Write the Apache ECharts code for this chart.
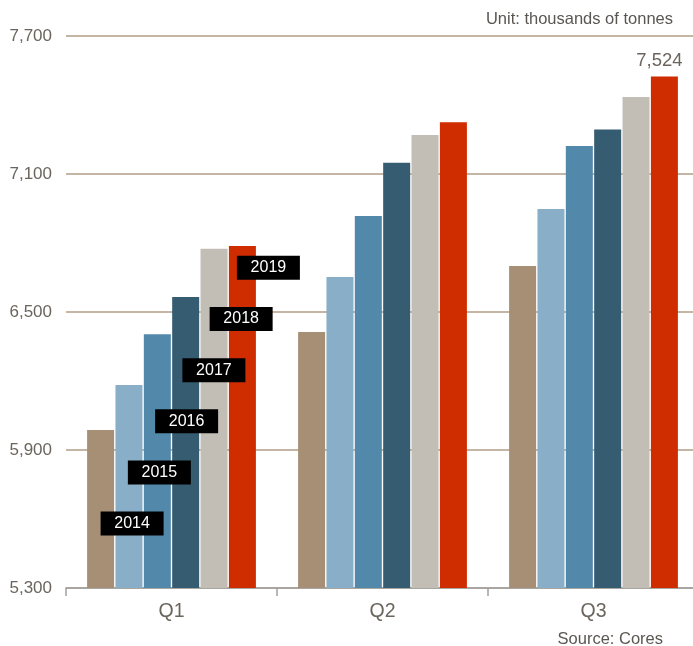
<!DOCTYPE html>
<html>
<head>
<meta charset="utf-8">
<script src="https://cdn.jsdelivr.net/npm/echarts@6/dist/echarts.min.js"></script>
<style>html,body{margin:0;padding:0;background:#fff;overflow:hidden}#c{width:700px;height:646px}</style>
</head>
<body>
<div id="c"></div>
<script>
var categories = ['Q1', 'Q2', 'Q3'];
var years = ['2014', '2015', '2016', '2017', '2018', '2019'];
var v2014 = [5987, 6413, 6700];
var v2015 = [6183, 6652, 6948];
var v2016 = [6403, 6917, 7222];
var v2017 = [6565, 7149, 7294];
var v2018 = [6775, 7270, 7435];
var v2019 = [6787, 7325, 7524];
var yTicks = [5300, 5900, 6500, 7100, 7700];

var seriesValues = [v2014, v2015, v2016, v2017, v2018, v2019];
var colors = ['#a68f75', '#88afc7', '#5289aa', '#365c71', '#c2beb6', '#cf2d00'];
var font = '"Liberation Sans", Arial, sans-serif';

var chart = echarts.init(document.getElementById('c'));
var series = years.map(function (y, i) {
  var data = seriesValues[i].map(function (v, j) {
    var item = { value: v };
    if (i === years.length - 1 && j === categories.length - 1) {
      item.label = {
        show: true, position: 'top', distance: 6, offset: [-5, 0],
        color: '#6b655e', fontSize: 18.5, fontFamily: font,
        formatter: function (p) { return echarts.format.addCommas(p.value); }
      };
    }
    return item;
  });
  return {
    name: y,
    type: 'bar',
    data: data,
    barCategoryGap: '20%',
    barGap: '5%',
    itemStyle: { color: colors[i] },
    emphasis: { disabled: true },
    markPoint: {
      symbol: 'rect',
      symbolSize: [63, 24],
      symbolOffset: [31.5 - 1.1 * i, 0],
      silent: true,
      itemStyle: { color: '#000' },
      label: { show: true, color: '#fff', fontSize: 16, fontFamily: font, formatter: y },
      data: [{ coord: ['Q1', 5580 + 222.4 * i] }]
    }
  };
});

chart.setOption({
  animation: false,
  textStyle: { fontFamily: font },
  grid: { left: 66, right: 1, top: 36, bottom: 58, containLabel: false },
  graphic: [
    { type: 'text', x: 673, y: 19, style: { text: 'Unit: thousands of tonnes', fill: '#5a5652', font: '16.5px ' + font, textAlign: 'right', textVerticalAlign: 'middle' } },
    { type: 'text', x: 663, y: 639, style: { text: 'Source: Cores', fill: '#5a5652', font: '16.5px ' + font, textAlign: 'right', textVerticalAlign: 'middle' } }
  ],
  xAxis: {
    type: 'category',
    data: categories,
    axisLine: { lineStyle: { color: '#a0a0a0', width: 1.5 } },
    axisTick: { show: true, length: 8, lineStyle: { color: '#a0a0a0', width: 1.5 } },
    axisLabel: { color: '#6b655e', fontSize: 19.5, margin: 14 }
  },
  yAxis: {
    type: 'value',
    min: yTicks[0],
    max: yTicks[yTicks.length - 1],
    interval: yTicks[1] - yTicks[0],
    axisLine: { show: false },
    axisTick: { show: false },
    axisLabel: {
      color: '#6b655e', fontSize: 17, margin: 14,
      formatter: function (v) { return echarts.format.addCommas(v); }
    },
    splitLine: { lineStyle: { color: '#b09d86', width: 1.5 } }
  },
  series: series
});
</script>
</body>
</html>
